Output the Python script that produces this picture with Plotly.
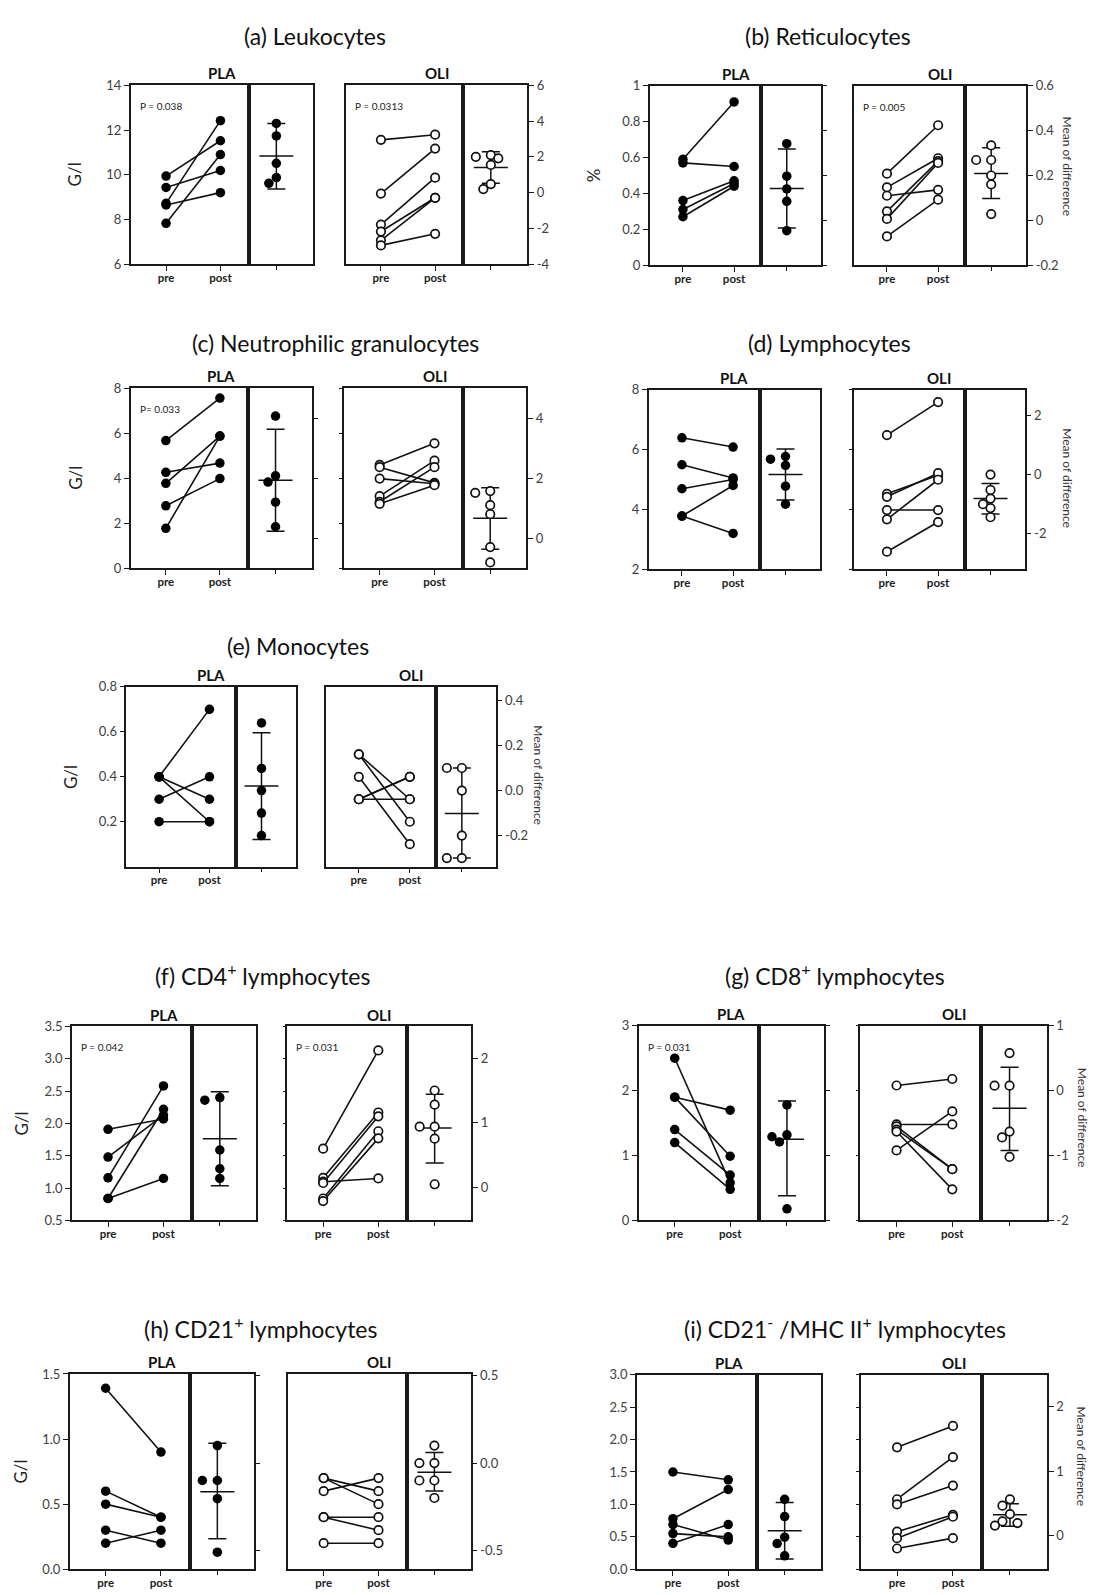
import plotly.graph_objects as go

W, H = 1113, 1595
FONT = "Lato"

# ---------------- data ----------------
# (a) Leukocytes
a_pla_pre = [9.94, 9.43, 8.72, 8.65, 7.83]
a_pla_post = [11.52, 10.19, 12.42, 9.2, 10.9]
a_pla_diff = [3.87, 3.17, 1.64, 0.84, 0.52]
a_pla_bar = [2.05, 0.2, 3.87]          # mean, lower SD, upper SD
a_oli_pre = [11.56, 9.16, 7.77, 7.46, 7.06, 6.84]
a_oli_post = [11.79, 11.17, 9.87, 8.97, 8.97, 7.36]
a_oli_diff = [2.1, 2.0, 1.92, 1.55, 0.48, 0.2]
a_oli_bar = [1.40, 0.52, 2.29]
a_left_ticks = [6, 8, 10, 12, 14]
a_left_labels = ["6", "8", "10", "12", "14"]
a_right_ticks = [-4, -2, 0, 2, 4, 6]
a_right_labels = ["-4", "-2", "0", "2", "4", "6"]

# (b) Reticulocytes
b_pla_pre = [0.59, 0.57, 0.36, 0.31, 0.27]
b_pla_post = [0.91, 0.55, 0.47, 0.455, 0.44]
b_pla_diff = [0.342, 0.197, 0.14, 0.085, -0.046]
b_pla_bar = [0.142, -0.034, 0.318]
b_oli_pre = [0.51, 0.434, 0.387, 0.30, 0.258, 0.16]
b_oli_post = [0.78, 0.596, 0.42, 0.58, 0.57, 0.365]
b_oli_diff = [0.334, 0.269, 0.269, 0.2, 0.16, 0.028]
b_oli_bar = [0.209, 0.097, 0.324]
b_left_ticks = [0, 0.2, 0.4, 0.6, 0.8, 1]
b_left_labels = ["0", "0.2", "0.4", "0.6", "0.8", "1"]
b_right_ticks = [-0.2, 0, 0.2, 0.4, 0.6]
b_right_labels = ["-0.2", "0", "0.2", "0.4", "0.6"]

# (c) Neutrophilic granulocytes
c_pla_pre = [5.67, 4.26, 3.77, 2.77, 1.77]
c_pla_post = [7.56, 4.67, 5.87, 3.98, 5.87]
c_pla_diff = [4.07, 2.08, 1.87, 1.2, 0.38]
c_pla_bar = [1.93, 0.23, 3.63]
c_oli_pre = [4.59, 4.49, 3.98, 3.2, 2.95, 2.86]
c_oli_post = [5.55, 3.79, 3.75, 4.78, 4.49, 3.69]
c_oli_diff = [1.57, 1.51, 1.1, 0.8, -0.3, -0.81]
c_oli_bar = [0.66, -0.37, 1.68]
c_left_ticks = [0, 2, 4, 6, 8]
c_left_labels = ["0", "2", "4", "6", "8"]
c_right_ticks = [0, 2, 4]
c_right_labels = ["0", "2", "4"]

# (d) Lymphocytes
d_pla_pre = [6.39, 5.49, 4.69, 3.78, 3.78]
d_pla_post = [6.08, 5.05, 5.0, 4.8, 3.2]
d_pla_diff = [0.61, 0.52, 0.31, -0.39, -1.0]
d_pla_bar = [0.0, -0.86, 0.86]
d_oli_pre = [6.48, 4.52, 4.42, 3.98, 3.67, 2.59]
d_oli_post = [7.58, 5.14, 5.21, 3.98, 4.99, 3.58]
d_oli_diff = [0.0, -0.52, -0.81, -1.0, -1.13, -1.44]
d_oli_bar = [-0.81, -1.33, -0.3]
d_left_ticks = [2, 4, 6, 8]
d_left_labels = ["2", "4", "6", "8"]
d_right_ticks = [-2, 0, 2]
d_right_labels = ["-2", "0", "2"]

# (e) Monocytes
e_pla_pre = [0.4, 0.4, 0.4, 0.3, 0.2]
e_pla_post = [0.7, 0.3, 0.2, 0.4, 0.2]
e_pla_diff = [0.3, 0.098, 0.0, -0.1, -0.2]
e_pla_bar = [0.02, -0.217, 0.256]
e_oli_pre = [0.5, 0.5, 0.4, 0.3, 0.3, 0.3]
e_oli_post = [0.3, 0.2, 0.1, 0.4, 0.4, 0.3]
e_oli_diff = [0.1, 0.1, 0.0, -0.2, -0.3, -0.3]
e_oli_bar = [-0.102, -0.3, 0.1]
e_left_ticks = [0.2, 0.4, 0.6, 0.8]
e_left_labels = ["0.2", "0.4", "0.6", "0.8"]
e_right_ticks = [-0.2, 0, 0.2, 0.4]
e_right_labels = ["-0.2", "0.0", "0.2", "0.4"]

# (f) CD4+ lymphocytes
f_pla_pre = [1.91, 1.48, 1.16, 0.84, 0.84]
f_pla_post = [2.07, 2.13, 2.58, 2.22, 1.15]
f_pla_diff = [1.39, 1.35, 0.58, 0.29, 0.14]
f_pla_bar = [0.755, 0.026, 1.48]
f_oli_pre = [1.61, 1.16, 1.10, 1.08, 0.84, 0.80]
f_oli_post = [3.13, 2.17, 1.15, 2.11, 1.88, 1.77]
f_oli_diff = [1.5, 1.28, 0.94, 0.94, 0.755, 0.05]
f_oli_bar = [0.92, 0.38, 1.44]
f_left_ticks = [0.5, 1.0, 1.5, 2.0, 2.5, 3.0, 3.5]
f_left_labels = ["0.5", "1.0", "1.5", "2.0", "2.5", "3.0", "3.5"]
f_right_ticks = [0, 1, 2]
f_right_labels = ["0", "1", "2"]

# (g) CD8+ lymphocytes
g_pla_pre = [2.5, 1.9, 1.9, 1.4, 1.2]
g_pla_post = [0.58, 1.7, 0.99, 0.7, 0.48]
g_pla_diff = [-0.22, -0.68, -0.71, -0.79, -1.82]
g_pla_bar = [-0.75, -1.62, -0.16]
g_oli_pre = [2.08, 1.48, 1.45, 1.40, 1.37, 1.08]
g_oli_post = [2.18, 1.48, 0.79, 0.79, 0.48, 1.68]
g_oli_diff = [0.58, 0.077, 0.077, -0.63, -0.72, -1.02]
g_oli_bar = [-0.27, -0.92, 0.36]
g_left_ticks = [0, 1, 2, 3]
g_left_labels = ["0", "1", "2", "3"]
g_right_ticks = [-2, -1, 0, 1]
g_right_labels = ["-2", "-1", "0", "1"]

# (h) CD21+ lymphocytes
h_pla_pre = [1.39, 0.6, 0.5, 0.3, 0.2]
h_pla_post = [0.9, 0.4, 0.4, 0.2, 0.3]
h_pla_diff = [0.1, -0.1, -0.1, -0.204, -0.51]
h_pla_bar = [-0.164, -0.434, 0.113]
h_oli_pre = [0.7, 0.7, 0.6, 0.4, 0.4, 0.2]
h_oli_post = [0.6, 0.5, 0.7, 0.4, 0.3, 0.2]
h_oli_diff = [0.1, 0.0, 0.0, -0.1, -0.1, -0.2]
h_oli_bar = [-0.053, -0.16, 0.06]
h_left_ticks = [0, 0.5, 1.0, 1.5]
h_left_labels = ["0.0", "0.5", "1.0", "1.5"]
h_right_ticks = [-0.5, 0, 0.5]
h_right_labels = ["-0.5", "0.0", "0.5"]

# (i) CD21- / MHC II+ lymphocytes
i_pla_pre = [1.5, 0.78, 0.69, 0.55, 0.40]
i_pla_post = [1.38, 1.23, 0.45, 0.5, 0.69]
i_pla_diff = [0.56, 0.29, -0.03, -0.13, -0.32]
i_pla_bar = [0.07, -0.37, 0.51]
i_oli_pre = [1.88, 1.08, 1.0, 0.58, 0.48, 0.32]
i_oli_post = [2.21, 1.73, 1.29, 0.84, 0.81, 0.48]
i_oli_diff = [0.56, 0.46, 0.33, 0.215, 0.19, 0.15]
i_oli_bar = [0.318, 0.14, 0.49]
i_left_ticks = [0, 0.5, 1.0, 1.5, 2.0, 2.5, 3.0]
i_left_labels = ["0.0", "0.5", "1.0", "1.5", "2.0", "2.5", "3.0"]
i_right_ticks = [0, 1, 2]
i_right_labels = ["0", "1", "2"]

time_labels = ["pre", "post"]
group_names = ["PLA", "OLI"]

DATA = {
    "a": dict(pla=(a_pla_pre, a_pla_post, a_pla_diff, a_pla_bar), oli=(a_oli_pre, a_oli_post, a_oli_diff, a_oli_bar),
              lt=a_left_ticks, ll=a_left_labels, rt=a_right_ticks, rl=a_right_labels),
    "b": dict(pla=(b_pla_pre, b_pla_post, b_pla_diff, b_pla_bar), oli=(b_oli_pre, b_oli_post, b_oli_diff, b_oli_bar),
              lt=b_left_ticks, ll=b_left_labels, rt=b_right_ticks, rl=b_right_labels),
    "c": dict(pla=(c_pla_pre, c_pla_post, c_pla_diff, c_pla_bar), oli=(c_oli_pre, c_oli_post, c_oli_diff, c_oli_bar),
              lt=c_left_ticks, ll=c_left_labels, rt=c_right_ticks, rl=c_right_labels),
    "d": dict(pla=(d_pla_pre, d_pla_post, d_pla_diff, d_pla_bar), oli=(d_oli_pre, d_oli_post, d_oli_diff, d_oli_bar),
              lt=d_left_ticks, ll=d_left_labels, rt=d_right_ticks, rl=d_right_labels),
    "e": dict(pla=(e_pla_pre, e_pla_post, e_pla_diff, e_pla_bar), oli=(e_oli_pre, e_oli_post, e_oli_diff, e_oli_bar),
              lt=e_left_ticks, ll=e_left_labels, rt=e_right_ticks, rl=e_right_labels),
    "f": dict(pla=(f_pla_pre, f_pla_post, f_pla_diff, f_pla_bar), oli=(f_oli_pre, f_oli_post, f_oli_diff, f_oli_bar),
              lt=f_left_ticks, ll=f_left_labels, rt=f_right_ticks, rl=f_right_labels),
    "g": dict(pla=(g_pla_pre, g_pla_post, g_pla_diff, g_pla_bar), oli=(g_oli_pre, g_oli_post, g_oli_diff, g_oli_bar),
              lt=g_left_ticks, ll=g_left_labels, rt=g_right_ticks, rl=g_right_labels),
    "h": dict(pla=(h_pla_pre, h_pla_post, h_pla_diff, h_pla_bar), oli=(h_oli_pre, h_oli_post, h_oli_diff, h_oli_bar),
              lt=h_left_ticks, ll=h_left_labels, rt=h_right_ticks, rl=h_right_labels),
    "i": dict(pla=(i_pla_pre, i_pla_post, i_pla_diff, i_pla_bar), oli=(i_oli_pre, i_oli_post, i_oli_diff, i_oli_bar),
              lt=i_left_ticks, ll=i_left_labels, rt=i_right_ticks, rl=i_right_labels),
}

# ---------------- layout geometry (pixels) ----------------
PANELS = [
    dict(k="a", title="(a) Leukocytes", tx=307, ty=20, T=70, B=250.7,
         pla=(122.7, 240.7, 305.0), oli=(337.7, 455.3, 519.3), lr=(6, 14), rr=(-4, 6),
         ytitle="G/l", rtitle=None, p_pla="P = 0.038", p_oli="P = 0.0313", pdt=False, olt=False),
    dict(k="b", title="(b) Reticulocytes", tx=820, ty=20, T=70.5, B=251.7,
         pla=(641.7, 752.7, 813.3), oli=(845.7, 956.7, 1018.3), lr=(0, 1), rr=(-0.2, 0.6),
         ytitle="%", rtitle=(1060, 152), p_pla=None, p_oli="P = 0.005", pdt=True, olt=False),
    dict(k="c", title="(c) Neutrophilic granulocytes", tx=327, ty=330, T=376, B=557.7,
         pla=(122.7, 240.0, 304.0), oli=(336.0, 455.0, 518.3), lr=(0, 8), rr=(-1, 5),
         ytitle="G/l", rtitle=None, p_pla="P= 0.033", p_oli=None, pdt=True, olt=True),
    dict(k="d", title="(d) Lymphocytes", tx=821.7, ty=330, T=377.3, B=559,
         pla=(640.7, 751.7, 811.7), oli=(845.7, 956.7, 1016.7), lr=(2, 8), rr=(-3.2, 2.87),
         ytitle=None, rtitle=(1060, 467), p_pla=None, p_oli=None, pdt=False, olt=True),
    dict(k="e", title="(e) Monocytes", tx=290, ty=636.7, T=677.7, B=859.3,
         pla=(118.3, 227.7, 287.7), oli=(317.7, 428.3, 487.7), lr=(0, 0.8), rr=(-0.338, 0.46),
         ytitle="G/l", rtitle=(531, 767), p_pla=None, p_oli=None, pdt=False, olt=False),
    dict(k="f", title="(f) CD4<sup>+</sup> lymphocytes", tx=255, ty=968.3, T=1020.7, B=1216.7,
         pla=(64.0, 184.3, 248.3), oli=(279.3, 399.0, 463.3), lr=(0.5, 3.5), rr=(-0.51, 2.49),
         ytitle="G/l", rtitle=None, p_pla="P = 0.042", p_oli="P = 0.031", pdt=False, olt=True),
    dict(k="g", title="(g) CD8<sup>+</sup> lymphocytes", tx=826.7, ty=968.3, T=1020, B=1216.7,
         pla=(630.7, 751.0, 816.0), oli=(852.3, 973.3, 1039.0), lr=(0, 3), rr=(-2, 1),
         ytitle=None, rtitle=(1074, 1113), p_pla="P = 0.031", p_oli=None, pdt=True, olt=True),
    dict(k="h", title="(h) CD21<sup>+</sup> lymphocytes", tx=253.3, ty=1325, T=1371.7, B=1569,
         pla=(61.7, 181.7, 246.0), oli=(280.0, 399.0, 462.7), lr=(0, 1.5), rr=(-0.608, 0.51),
         ytitle="G/l", rtitle=None, p_pla=None, p_oli=None, pdt=True, olt=False),
    dict(k="i", title="(i) CD21<sup>-</sup> /MHC II<sup>+</sup> lymphocytes", tx=836.7, ty=1325,
         T=1372.5, B=1569, pla=(629.0, 749.0, 813.3), oli=(852.7, 974.0, 1039.0), lr=(0, 3), rr=(-0.53, 2.5),
         ytitle=None, rtitle=(1074, 1455), p_pla=None, p_oli=None, pdt=False, olt=True),
]

LINE = "#1a1a1a"
TICKC = "#404040"
XR = [0.35, 2.52]
CENTER = 0.43


def ref(n):
    return "" if n == 1 else str(n)


def swarm(vals, ppu, step=7.5, diam=8.0):
    order = sorted(range(len(vals)), key=lambda k: -vals[k])
    placed, offs = [], [0.0] * len(vals)
    for k in order:
        yk = vals[k] * ppu
        chosen = 0.0
        for c in (0.0, -step, step, -2 * step, 2 * step):
            if all((c - ox) ** 2 + (yk - oy) ** 2 >= diam ** 2 for ox, oy in placed):
                chosen = c
                break
        offs[k] = chosen
        placed.append((chosen, yk))
    return offs


fig = go.Figure()
layout = {}
annotations = []
n = 0

base_axis = dict(showgrid=False, zeroline=False, showline=True, mirror=True, linecolor=LINE,
                 linewidth=1.5, fixedrange=True, tickcolor=LINE, tickwidth=1.2)

for P in PANELS:
    D = DATA[P["k"]]
    T, B = P["T"], P["B"]
    ydom = [1 - B / H, 1 - T / H]
    tfs = 13
    for gi, g in enumerate(("pla", "oli")):
        L, M, R = P[g]
        pre, post, diff, bar = D[g]
        # main (pre/post) axes
        n += 1
        im = n
        layout["xaxis" + ref(im)] = dict(base_axis, domain=[L / W, M / W], range=XR, anchor="y" + ref(im),
                                         tickmode="array", tickvals=[1, 2],
                                         ticktext=["<b>%s</b>" % t for t in time_labels],
                                         ticks="outside", ticklen=5, ticklabelstandoff=-3,
                                         tickfont=dict(family=FONT, size=11.5, color="#222"))
        ya = dict(base_axis, domain=ydom, range=list(P["lr"]), anchor="x" + ref(im), side="left",
                  tickmode="array", tickvals=D["lt"], ticktext=D["ll"])
        if g == "pla":
            ya.update(ticks="outside", ticklen=5, tickfont=dict(family=FONT, size=tfs, color=TICKC))
        else:
            ya.update(showticklabels=False, ticks="outside" if P["olt"] else "", ticklen=3)
        layout["yaxis" + ref(im)] = ya
        # diff axes
        n += 1
        idf = n
        w = R - M
        layout["xaxis" + ref(idf)] = dict(base_axis, domain=[M / W, R / W], range=[-CENTER * w, (1 - CENTER) * w],
                                          anchor="y" + ref(idf), tickmode="array", tickvals=[0],
                                          showticklabels=False, ticks="outside", ticklen=4)
        yd = dict(base_axis, domain=ydom, range=list(P["rr"]), anchor="x" + ref(idf), side="right",
                  tickmode="array", tickvals=D["rt"], ticktext=D["rl"])
        if g == "oli":
            yd.update(ticks="outside", ticklen=5, tickfont=dict(family=FONT, size=tfs, color=TICKC))
        else:
            yd.update(showticklabels=False, ticks="outside" if P["pdt"] else "", ticklen=4)
        layout["yaxis" + ref(idf)] = yd

        if g == "pla":
            mk = dict(size=9.5, color="#000", line=dict(width=0), symbol="circle")
        else:
            mk = dict(size=8.5, color="white", line=dict(color="#111", width=1.7), symbol="circle")

        xs, ys = [], []
        for a, b in zip(pre, post):
            xs += [1, 2, None]
            ys += [a, b, None]
        fig.add_trace(go.Scatter(x=xs, y=ys, xaxis="x" + ref(im), yaxis="y" + ref(im), mode="lines+markers",
                                 line=dict(color="#111", width=1.6), marker=mk, hoverinfo="skip"))

        ppu = (B - T) / (P["rr"][1] - P["rr"][0])
        offs = swarm(diff, ppu)
        mean, lo, hi = bar
        fig.add_trace(go.Scatter(x=[-17, 17, None, -9, 9, None, -9, 9, None, 0, 0],
                                 y=[mean, mean, None, hi, hi, None, lo, lo, None, lo, hi],
                                 xaxis="x" + ref(idf), yaxis="y" + ref(idf), mode="lines",
                                 line=dict(color="#111", width=1.5), hoverinfo="skip"))
        fig.add_trace(go.Scatter(x=offs, y=diff, xaxis="x" + ref(idf), yaxis="y" + ref(idf), mode="markers",
                                 marker=mk, hoverinfo="skip"))

        # sub-title
        annotations.append(dict(text="<b>%s</b>" % group_names[gi], x=(L + R) / 2 / W, y=1 - (T - 12) / H,
                                xref="paper", yref="paper", showarrow=False, xanchor="center", yanchor="middle",
                                font=dict(family=FONT, size=15, color="#111")))
        ptxt = P["p_" + g]
        if ptxt:
            annotations.append(dict(text=ptxt, x=(L + 7) / W, y=1 - (T + 21) / H, xref="paper", yref="paper",
                                    showarrow=False, xanchor="left", yanchor="middle",
                                    font=dict(family=FONT, size=10, color="#222")))

    # panel title
    annotations.append(dict(text=P["title"], x=P["tx"] / W, y=1 - P["ty"] / H, xref="paper", yref="paper",
                            showarrow=False, xanchor="center", yanchor="middle",
                            font=dict(family=FONT, size=23, color="#111")))
    if P["ytitle"]:
        annotations.append(dict(text=P["ytitle"], x=max(P["pla"][0] - 56, 13) / W, y=1 - (T + B) / 2 / H,
                                xref="paper", yref="paper", showarrow=False, textangle=-90,
                                xanchor="center", yanchor="middle",
                                font=dict(family=FONT, size=17, color="#222")))
    if P["rtitle"]:
        rx, ry = P["rtitle"]
        annotations.append(dict(text="Mean of difference", x=rx / W, y=1 - ry / H, xref="paper", yref="paper",
                                showarrow=False, textangle=90, xanchor="center", yanchor="middle",
                                font=dict(family=FONT, size=12, color="#333")))

fig.update_layout(**layout)
fig.update_layout(width=W, height=H, margin=dict(l=0, r=0, t=0, b=0), showlegend=False,
                  plot_bgcolor="white", paper_bgcolor="white", annotations=annotations,
                  font=dict(family=FONT))
fig.write_html("out.html")
